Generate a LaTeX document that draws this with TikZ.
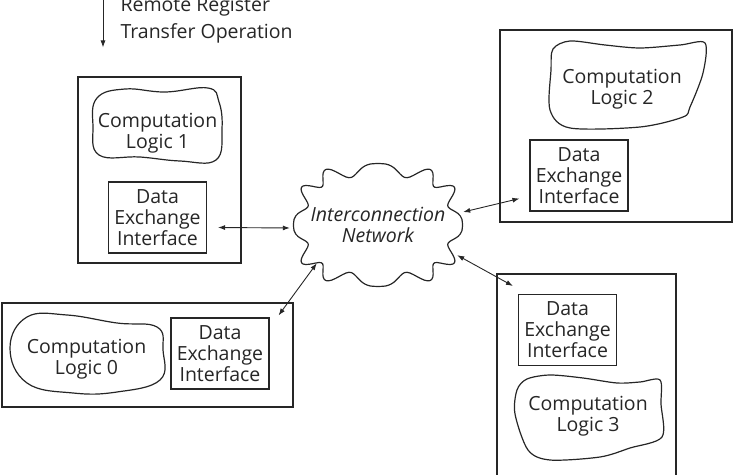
\documentclass[tikz,border=0pt]{standalone}
\usepackage{fontspec}
\setmainfont{Open Sans}
\usetikzlibrary{positioning,arrows.meta}

\begin{document}
\begin{tikzpicture}[x=1pt,y=1pt, color=black!85,
    every node/.style={font=\fontsize{19.5}{21}\selectfont, align=center},
    unit/.style={draw, line width=1.1pt, inner sep=0pt},
    dei/.style={draw, line width=1.1pt, minimum width=98pt, minimum height=71pt, inner sep=0pt},
    blob/.style={line width=1.2pt},
    link/.style={{Latex[length=7pt,width=5pt]}-{Latex[length=7pt,width=5pt]}, line width=0.9pt},
  ]
  \useasboundingbox (0,0) rectangle (736,474);
  %.
  % the four units
  \node[unit, minimum width=163pt, minimum height=186pt] (u1) at (159.5,304) {};
  \node[unit, minimum width=291pt, minimum height=104pt] (u0) at (147.5,119) {};
  \node[unit, minimum width=232pt, minimum height=192pt] (u2) at (616,348) {};
  \node[unit, minimum width=179pt, minimum height=210pt] (u3) at (586.5,95) {};
  %.
  \node[dei] (dei1) at (157.5,256.5) {Data\\Exchange\\Interface};
  \node[dei] (dei0) at (220,120.5) {Data\\Exchange\\Interface};
  \node[dei] (dei2) at (579,298.5) {Data\\Exchange\\Interface};
  \node[dei] (dei3) at (567.5,144) {Data\\Exchange\\Interface};
  %.
  % computation logic blobs
  \draw[blob] plot[smooth cycle, tension=0.7] coordinates {(97,376) (125,385) (165,382) (208,386) (219,372) (222,345) (216,314) (180,313) (140,317) (99,319) (93,348)};
  \node (cl1) at (157.5,341) {Computation\\Logic 1};
  \draw[blob] plot[smooth cycle, tension=0.7] coordinates {(10,126) (27,157) (67,159) (117,151) (157,147) (163,124) (160,94) (117,82) (73,81) (27,91)};
  \node (cl0) at (86.5,115) {Computation\\Logic 0};
  \draw[blob] plot[smooth cycle, tension=0.5] coordinates {(553,425) (570,433) (605,429) (640,426) (680,429) (705,431) (703,401) (690,367) (683,357) (640,347) (570,346) (550,364) (551,404)};
  \node (cl2) at (622,385) {Computation\\Logic 2};
  \draw[blob] plot[smooth cycle, tension=0.5] coordinates {(517,84) (527,95) (550,99) (583,96) (617,91) (640,92) (660,94) (661,70) (662,37) (630,26) (600,17) (550,14) (528,24) (515,60)};
  \node (cl3) at (588,58) {Computation\\Logic 3};
  %.
  % network
  \node[minimum width=170pt, minimum height=124pt] (net) at (378,249) {};
  \draw[line width=1.2pt] plot[smooth cycle, domain=0:358, samples=180, variable=\t]
    ({378+(78+6.5*sin(12*\t+90))*cos(\t)*(abs(cos(\t))+0.0001)^(-0.3)},
     {249+(55+6.5*sin(12*\t+90))*sin(\t)*(abs(sin(\t))+0.0001)^(-0.3)});
  \node[font=\fontsize{19.5}{21}\selectfont\itshape] (netlbl) at (net.center) {Interconnection\\Network};
  %.
  \draw[link] ([xshift=11pt,yshift=-10pt]dei1.east) -- ([xshift=-3pt,yshift=-3pt]net.west);
  \draw[link] ([xshift=9pt,yshift=2pt]dei0.north east) -- ([xshift=24pt,yshift=24pt]net.south west);
  \draw[link] ([yshift=13pt]net.east) -- ([xshift=-10pt,yshift=13pt]dei2.south west);
  \draw[link] ([xshift=-6pt,yshift=32pt]net.south east) -- ([xshift=-5pt,yshift=8pt]dei3.north west);
  %.
  % remote transfer
  \coordinate (src) at (103,474);
  \draw[line width=0.9pt, -{Latex[length=7pt,width=5pt]}] (src) -- ([xshift=-56.5pt,yshift=29pt]u1.north);
  \node[anchor=west, align=left, font=\fontsize{19.5}{26.5}\selectfont] (op) at (117,454) {Remote Register\\Transfer Operation};
  %.
\end{tikzpicture}
\end{document}
